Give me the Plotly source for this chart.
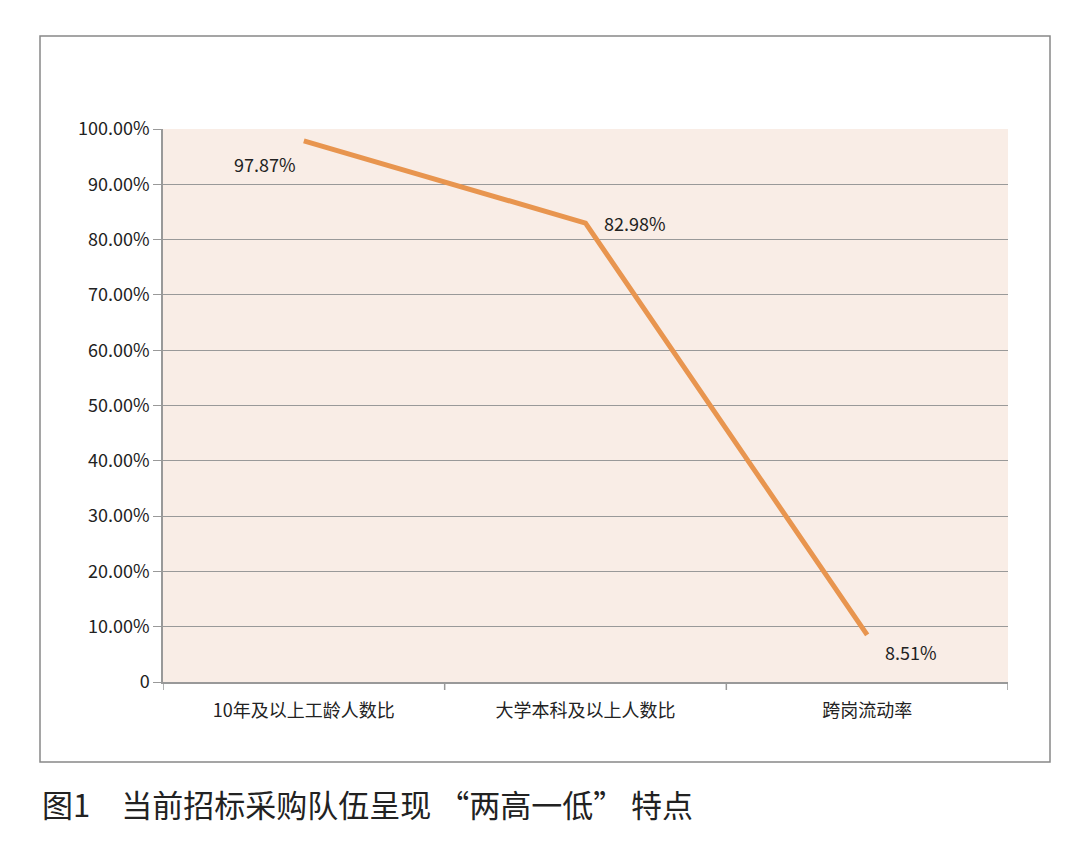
import plotly.graph_objects as go

categories = ["10年及以上工龄人数比", "大学本科及以上人数比", "跨岗流动率"]
values = [97.87, 82.98, 8.51]
labels = ["97.87%", "82.98%", "8.51%"]
tickvals = [0, 10, 20, 30, 40, 50, 60, 70, 80, 90, 100]
ticktext = ["0"] + [f"{v:.2f}%" for v in tickvals[1:]]

W, H = 1080, 862
OFF = 8  # page body margin
L, T = 163 - OFF, 129 - OFF
pw, ph = 845, 553
R, B = W - L - pw, H - T - ph
def px(x): return (x - OFF - L) / pw
def py(y): return (T + ph - (y - OFF)) / ph

font = "Noto Sans CJK SC, Noto Sans, sans-serif"
fig = go.Figure()
fig.add_trace(go.Scatter(x=[0, 1, 2], y=values, mode="lines",
                         line=dict(color="#e8954f", width=5), hoverinfo="skip"))
anchors = [("right", "top"), ("left", "middle"), ("left", "top")]
shifts = [(-6, -8), (16, 0), (16, -2)]
for i, (v, t) in enumerate(zip(values, labels)):
    fig.add_annotation(x=i, y=v, text=t, showarrow=False, xanchor=anchors[i][0], yanchor=anchors[i][1],
                       xshift=shifts[i][0], yshift=shifts[i][1],
                       font=dict(size=18, color="#222", family=font))
fig.add_shape(type="rect", xref="paper", yref="paper", x0=px(40), x1=px(1050), y0=py(762), y1=py(36),
              line=dict(color="#888", width=1.5), layer="below")
fig.add_annotation(xref="paper", yref="paper", x=px(40), y=py(803), text="图1　当前招标采购队伍呈现 “两高一低” 特点",
                   showarrow=False, xanchor="left", yanchor="middle",
                   font=dict(size=31, color="#222", family=font))
fig.update_layout(width=W, height=H, margin=dict(l=L, r=R, t=T, b=B),
                  paper_bgcolor="white", plot_bgcolor="#f9ede6", showlegend=False,
                  xaxis=dict(range=[-0.5, 2.5], tickvals=[0, 1, 2], ticktext=categories,
                             showgrid=False, zeroline=False, showline=True, linecolor="#999", linewidth=1.5,
                             ticks="", ticklabelstandoff=12,
                             tickfont=dict(size=18, color="#222", family=font), fixedrange=True),
                  yaxis=dict(range=[0, 100], tickvals=tickvals, ticktext=ticktext,
                             showgrid=True, gridcolor="#999", gridwidth=1.2, zeroline=False,
                             showline=True, linecolor="#999", linewidth=1.5,
                             ticks="outside", ticklen=8, tickcolor="#999",
                             tickfont=dict(size=18, color="#222", family=font), fixedrange=True))
for b in [-0.5, 0.5, 1.5, 2.5]:
    fig.add_shape(type="line", xref="x", yref="paper", x0=b, x1=b, y0=0, y1=-8/ph,
                  line=dict(color="#999", width=1.5))
fig.write_html("out.html")
